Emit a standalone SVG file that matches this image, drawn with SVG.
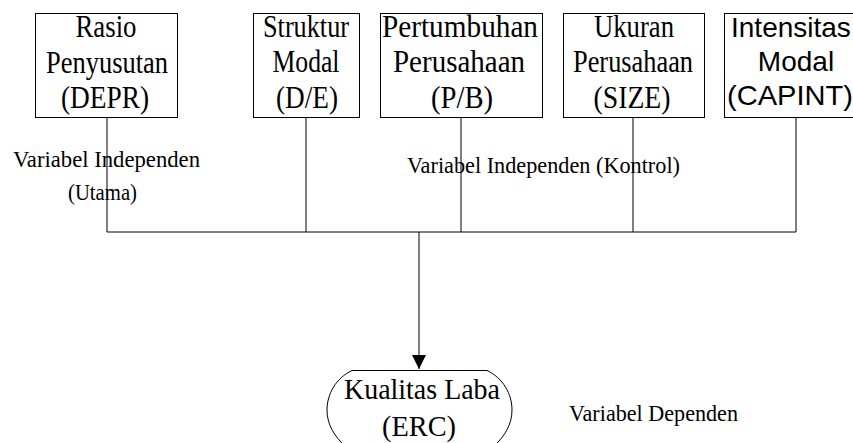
<svg xmlns="http://www.w3.org/2000/svg" width="853" height="443" viewBox="0 0 853 443">
<defs>
<style>
.box{fill:none;stroke:#000;stroke-width:1}
.ln{fill:none;stroke:#000;stroke-width:1}
.t{font-family:"Liberation Serif","Times New Roman",serif;font-size:32px;fill:#000;text-anchor:middle}
.s{font-family:"Liberation Sans",Arial,sans-serif;font-size:28px;fill:#000}
.lbl{font-family:"Liberation Serif","Times New Roman",serif;font-size:24px;fill:#000}
.k{font-family:"Liberation Serif","Times New Roman",serif;font-size:30px;fill:#000;text-anchor:middle}
</style>
<marker id="arr" markerWidth="15" markerHeight="15" refX="14" refY="7" orient="auto" markerUnits="userSpaceOnUse">
<path d="M0,0 L14,7 L0,14 Z" fill="#000"/>
</marker>
</defs>
<rect width="853" height="443" fill="#fff"/>
<g id="connectors">
<path class="ln" d="M107,117 V232 M306,117 V232 M461,117 V232 M633,117 V232 M796,117 V232 M107,232 H796"/>
<path class="ln" d="M419,232 V369" marker-end="url(#arr)"/>
</g>
<g id="depr">
<rect class="box" x="35.5" y="13.5" width="142" height="104"/>
<text class="t" x="106" y="37" textLength="61" lengthAdjust="spacingAndGlyphs">Rasio</text>
<text class="t" x="107" y="73" textLength="122" lengthAdjust="spacingAndGlyphs">Penyusutan</text>
<text class="t" x="105" y="108" textLength="88" lengthAdjust="spacingAndGlyphs">(DEPR)</text>
</g>
<g id="de">
<rect class="box" x="253.5" y="13.5" width="106" height="104"/>
<text class="t" x="306" y="37" textLength="86" lengthAdjust="spacingAndGlyphs">Struktur</text>
<text class="t" x="306" y="72" textLength="67" lengthAdjust="spacingAndGlyphs">Modal</text>
<text class="t" x="307" y="108" textLength="62" lengthAdjust="spacingAndGlyphs">(D/E)</text>
</g>
<g id="pb">
<rect class="box" x="380.5" y="13.5" width="162" height="104"/>
<text class="t" x="460" y="37" textLength="156" lengthAdjust="spacingAndGlyphs">Pertumbuhan</text>
<text class="t" x="459" y="72" textLength="132" lengthAdjust="spacingAndGlyphs">Perusahaan</text>
<text class="t" x="462" y="108" textLength="62" lengthAdjust="spacingAndGlyphs">(P/B)</text>
</g>
<g id="size">
<rect class="box" x="563.5" y="13.5" width="141" height="104"/>
<text class="t" x="634" y="37" textLength="80" lengthAdjust="spacingAndGlyphs">Ukuran</text>
<text class="t" x="633" y="72" textLength="120" lengthAdjust="spacingAndGlyphs">Perusahaan</text>
<text class="t" x="632" y="108" textLength="77" lengthAdjust="spacingAndGlyphs">(SIZE)</text>
</g>
<g id="capint">
<rect class="box" x="724.5" y="13.5" width="144" height="104"/>
<text class="s" x="731" y="37">Intensitas</text>
<text class="s" x="796" y="71" text-anchor="middle">Modal</text>
<text class="s" x="727" y="105" textLength="126" lengthAdjust="spacingAndGlyphs">(CAPINT)</text>
</g>
<g id="erc">
<path class="box" d="M352,370.5 H487 C503,378 512,394 512,410 C512,424 505,436 494,446 L480,460 H359 L345,446 C334,436 327,424 327,410 C327,394 336,378 352,370.5 Z"/>
<text class="k" x="422" y="399" textLength="156" lengthAdjust="spacingAndGlyphs">Kualitas Laba</text>
<text class="k" x="419" y="436" textLength="74" lengthAdjust="spacingAndGlyphs">(ERC)</text>
</g>
<g id="labels">
<text class="lbl" x="13" y="167" textLength="187" lengthAdjust="spacingAndGlyphs">Variabel Independen</text>
<text class="lbl" x="68" y="200" textLength="69" lengthAdjust="spacingAndGlyphs">(Utama)</text>
<text class="lbl" x="407" y="173" textLength="273" lengthAdjust="spacingAndGlyphs">Variabel Independen (Kontrol)</text>
<text class="lbl" x="569" y="421" textLength="169" lengthAdjust="spacingAndGlyphs">Variabel Dependen</text>
</g>
</svg>
